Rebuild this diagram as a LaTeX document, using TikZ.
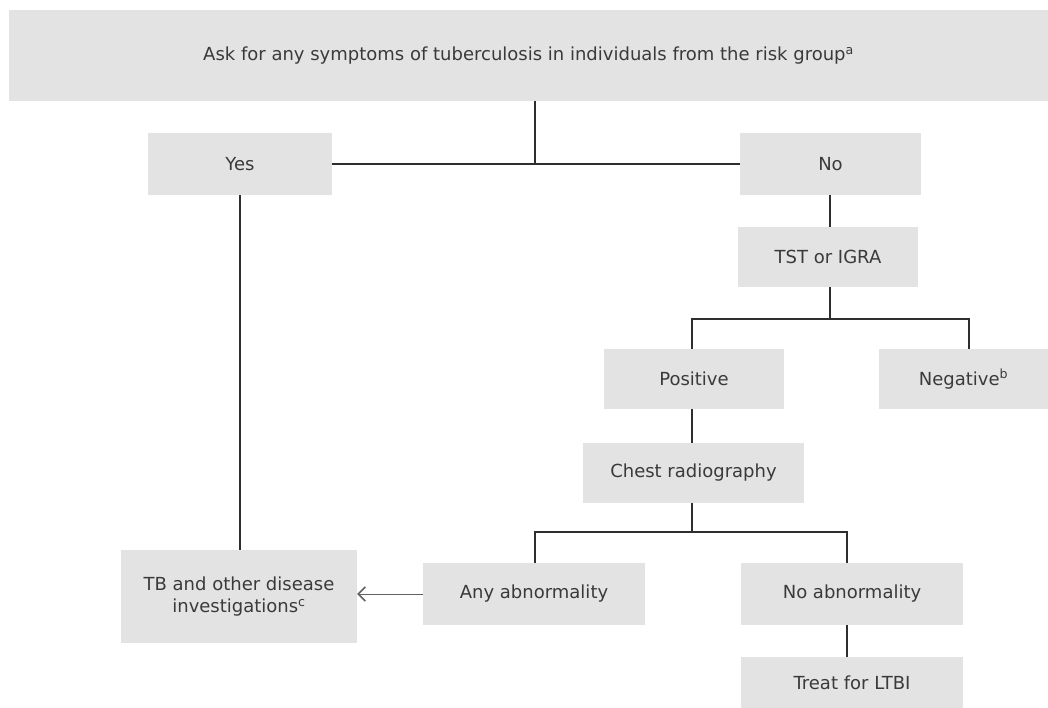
\documentclass[tikz,border=0pt]{standalone}
\usepackage{fontspec}
\setmainfont{DejaVu Sans}
\usetikzlibrary{arrows.meta}
\definecolor{boxfill}{HTML}{E3E3E3}
\definecolor{txt}{HTML}{3A3A3A}
\definecolor{ln}{HTML}{2E2E2E}
\begin{document}
\begin{tikzpicture}[x=1pt,y=-1pt,
  box/.style={fill=boxfill, draw=none, inner sep=0pt, text=txt, align=center,
    font=\fontsize{18}{22}\selectfont},
  conn/.style={draw=ln, line width=2pt},
  arr/.style={draw=ln!75, line width=1pt, -{Straight Barb[length=7pt,width=14pt,line width=1.6pt]}}]
\useasboundingbox (0,0) rectangle (1048,708);
\fill[white] (0,0) rectangle (1048,708);
% boxes
\node[box, minimum width=1039pt, minimum height=91pt] (top) at (528.5,55.5) {Ask for any symptoms of tuberculosis in individuals from the risk group\textsuperscript{a}};
\node[box, minimum width=184pt, minimum height=62pt] (yes) at (240,164) {Yes};
\node[box, minimum width=181pt, minimum height=62pt] (no) at (830.5,164) {No};
\node[box, minimum width=180pt, minimum height=60pt] (tst) at (828,257) {TST or IGRA};
\node[box, minimum width=180pt, minimum height=60pt] (pos) at (694,379) {Positive};
\node[box, minimum width=169pt, minimum height=60pt] (neg) at (963.5,379) {Negative\textsuperscript{b}};
\node[box, minimum width=221pt, minimum height=60pt] (chest) at (693.5,473) {Chest radiography};
\node[box, minimum width=222pt, minimum height=62pt] (any) at (534,594) {Any abnormality};
\node[box, minimum width=222pt, minimum height=62pt] (noab) at (852,594) {No abnormality};
\node[box, minimum width=222pt, minimum height=51pt] (treat) at (852,682.5) {Treat for LTBI};
\node[box, minimum width=236pt, minimum height=93pt] (tb) at (239,596.5) {TB and other disease\\investigations\textsuperscript{c}};
% junctions
\coordinate (j1) at (535,164);
\coordinate (j2) at (830,319);
\coordinate (j3) at (692,532);
% connectors
\draw[conn] (top.south -| j1) -- (j1);
\draw[conn] (yes.east) -- (no.west);
\draw[conn] (yes.south) -- (yes.south |- tb.north);
\draw[conn] (830,195) -- (830,227);
\draw[conn] (tst.south -| j2) -- (j2);
\draw[conn] (pos.north -| 692,0) |- (j2) -| (neg.north -| 969,0);
\draw[conn] (pos.south -| 692,0) -- (chest.north -| 692,0);
\draw[conn] (chest.south -| j3) -- (j3);
\draw[conn] (any.north -| 535,0) |- (j3) -| (noab.north -| 847,0);
\draw[conn] (noab.south -| 847,0) -- (treat.north -| 847,0);
\draw[arr] (any.west) -- (any.west -| tb.east);
\end{tikzpicture}
\end{document}
